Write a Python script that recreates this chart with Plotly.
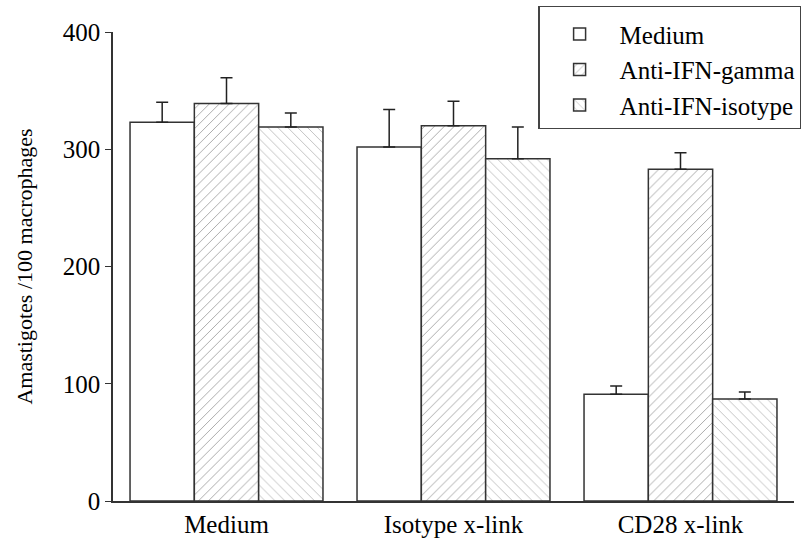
import plotly.graph_objects as go

categories = ["Medium", "Isotype x-link", "CD28 x-link"]
series_names = ["Medium", "Anti-IFN-gamma", "Anti-IFN-isotype"]
medium_vals = [323, 302, 91]
medium_err = [17, 32, 7]
gamma_vals = [339, 320, 283]
gamma_err = [22, 21, 14]
isotype_vals = [319, 292, 87]
isotype_err = [12, 27, 6]
y_ticks = [0, 100, 200, 300, 400]

FONT = "Liberation Serif"
line_col = "#333333"

def patt(shape, fg):
    if shape == "":
        return dict(shape="")
    return dict(shape=shape, fgcolor=fg, bgcolor="white", size=7, solidity=0.1, fillmode="replace")

fig = go.Figure()
specs = [
    (series_names[0], medium_vals, medium_err, "", None),
    (series_names[1], gamma_vals, gamma_err, "/", "#8a8a8a"),
    (series_names[2], isotype_vals, isotype_err, "\\", "#aaaaaa"),
]
for i, (name, vals, err, shp, fg) in enumerate(specs):
    fig.add_trace(go.Bar(
        name=name, x=categories, y=vals, legendgroup=f"g{i}",
        marker=dict(color="white", line=dict(color=line_col, width=1.5),
                    pattern=patt(shp, fg)),
        error_y=dict(type="data", array=err, arrayminus=[0]*len(err), symmetric=False,
                     color="#222222", thickness=1.5, width=6),
    ))

fig.update_layout(
    width=803, height=548,
    barmode="group", bargap=0.15, bargroupgap=0,
    plot_bgcolor="white", paper_bgcolor="white",
    margin=dict(l=113, r=9, t=32, b=47, autoexpand=False),
    font=dict(family=FONT, color="black", size=25),
    legend=dict(xref="container", yref="container", x=0.998, xanchor="right",
                y=0.989, yanchor="top",
                bordercolor="#444444", borderwidth=1.2, bgcolor="white",
                font=dict(family=FONT, size=25), itemwidth=70,
                tracegroupgap=0,
                title=dict(text=" ", font=dict(family=FONT, size=3))),
    showlegend=True,
)
fig.update_xaxes(showline=True, linecolor="#333333", linewidth=1.5, ticks="",
                 tickfont=dict(family=FONT, size=25), showgrid=False, zeroline=False,
                 automargin=False)
fig.update_yaxes(range=[0, 400], tickvals=y_ticks, showline=True, linecolor="#333333",
                 linewidth=1.5, ticks="outside", ticklen=6, tickcolor="#333333",
                 tickfont=dict(family=FONT, size=25), showgrid=False, zeroline=False,
                 automargin=False,
                 title=dict(text="Amastigotes /100 macrophages", font=dict(family=FONT, size=22),
                            standoff=24))

fig.write_html("out.html", config={"displayModeBar": False},
               post_script="document.body.style.margin='0';document.body.style.padding='0';")
